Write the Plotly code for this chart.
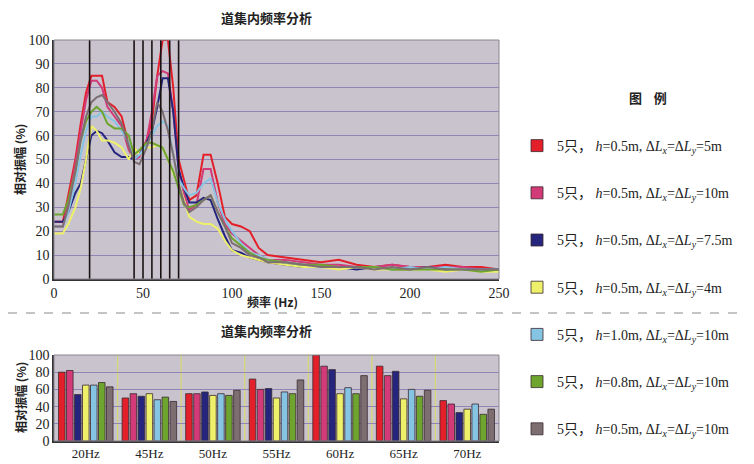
import plotly.graph_objects as go

# ---------------- data ----------------
freq = [0, 5, 8, 12, 15, 18, 21, 24, 27, 30, 34, 38, 42, 45, 48, 52, 55, 58, 61, 64,
        67, 70, 73, 76, 80, 84, 88, 92, 96, 100, 105, 110, 115, 120, 130, 140, 150,
        160, 170, 180, 190, 200, 210, 220, 230, 240, 250]

amp_red = [24, 24, 35, 50, 65, 78, 85, 85, 85, 74, 72, 68, 56, 50, 52, 58, 66, 85, 100, 100,
           80, 50, 42, 33, 35, 52, 52, 40, 26, 23, 22, 20, 13, 10, 9, 8, 7,
           8, 6, 5, 6, 5, 5, 6, 5, 5, 4]
amp_pink = [22, 22, 32, 48, 62, 75, 83, 83, 80, 72, 68, 64, 54, 50, 51, 58, 70, 85, 87, 86,
            70, 46, 36, 29, 31, 46, 46, 32, 23, 19, 16, 13, 10, 8, 8, 7, 6,
            6, 5, 5, 6, 5, 5, 5, 5, 4, 4]
amp_navy = [24, 24, 28, 36, 40, 50, 60, 62, 61, 58, 53, 51, 51, 50, 52, 57, 62, 72, 84, 84,
            70, 46, 38, 32, 32, 34, 33, 25, 18, 12, 11, 9, 8, 7, 6, 5, 5,
            5, 4, 5, 4, 4, 5, 4, 4, 4, 4]
amp_yellow = [19, 19, 23, 30, 38, 50, 64, 62, 58, 58, 57, 55, 50, 55, 52, 55, 55, 56, 55, 50,
              44, 40, 33, 26, 24, 23, 23, 21, 16, 12, 10, 9, 8, 7, 6, 5, 5,
              4, 5, 4, 4, 4, 4, 3, 4, 3, 3]
amp_lblue = [22, 22, 28, 40, 52, 62, 68, 68, 70, 68, 66, 62, 57, 50, 52, 56, 60, 64, 66, 64,
             52, 42, 38, 35, 36, 40, 42, 32, 25, 20, 15, 11, 10, 8, 7, 6, 5,
             5, 5, 5, 4, 5, 4, 5, 4, 4, 4]
amp_green = [27, 27, 33, 45, 58, 66, 70, 72, 70, 65, 63, 63, 60, 52, 54, 57, 57, 56, 55, 50,
             45, 38, 31, 30, 31, 33, 35, 28, 22, 17, 14, 11, 9, 8, 7, 6, 6,
             5, 5, 5, 4, 4, 4, 4, 4, 3, 4]
amp_gray = [22, 22, 30, 45, 58, 68, 74, 76, 77, 74, 70, 65, 56, 49, 48, 55, 62, 74, 70, 62,
            52, 40, 32, 28, 30, 33, 35, 28, 22, 15, 13, 10, 9, 7, 7, 6, 5,
            5, 5, 4, 5, 4, 5, 4, 4, 4, 4]

SP = "\u00a0"
series_names = [
    "5只，" + SP + "<i>h</i>=0.5m, Δ<i>L<sub>x</sub></i>=Δ<i>L<sub>y</sub></i>=5m",
    "5只，" + SP + "<i>h</i>=0.5m, Δ<i>L<sub>x</sub></i>=Δ<i>L<sub>y</sub></i>=10m",
    "5只，" + SP + "<i>h</i>=0.5m, Δ<i>L<sub>x</sub></i>=Δ<i>L<sub>y</sub></i>=7.5m",
    "5只，" + SP + "<i>h</i>=0.5m, Δ<i>L<sub>x</sub></i>=Δ<i>L<sub>y</sub></i>=4m",
    "5只，" + SP + "<i>h</i>=1.0m, Δ<i>L<sub>x</sub></i>=Δ<i>L<sub>y</sub></i>=10m",
    "5只，" + SP + "<i>h</i>=0.8m, Δ<i>L<sub>x</sub></i>=Δ<i>L<sub>y</sub></i>=10m",
    "5只，" + SP + "<i>h</i>=0.5m, Δ<i>L<sub>x</sub></i>=Δ<i>L<sub>y</sub></i>=10m",
]
colors = ["#e3202a", "#d23a78", "#25257e", "#eef06a", "#86c4e4", "#6ea52e", "#7d6e72"]

marker_freqs = [20, 45, 50, 55, 60, 65, 70]

bar_cats = ["20Hz", "45Hz", "50Hz", "55Hz", "60Hz", "65Hz", "70Hz"]
bar_red = [80, 50, 55, 72, 100, 87, 47]
bar_pink = [82, 55, 55, 60, 87, 76, 43]
bar_navy = [54, 52, 57, 61, 83, 81, 33]
bar_yellow = [65, 55, 53, 50, 55, 49, 37]
bar_lblue = [65, 48, 55, 57, 62, 60, 43]
bar_green = [68, 51, 53, 55, 55, 52, 31]
bar_gray = [63, 46, 59, 71, 76, 59, 37]

line_series = [amp_red, amp_pink, amp_navy, amp_yellow, amp_lblue, amp_green, amp_gray]
bar_series = [bar_red, bar_pink, bar_navy, bar_yellow, bar_lblue, bar_green, bar_gray]

# ---------------- figure ----------------
# the page body adds an 8px margin; size the figure so it fills the window exactly
OFF = 8
W, H = 754 - OFF, 464 - OFF
fig = go.Figure()

def px(xp):
    return (xp - OFF) / W

def py(yp):
    return 1 - (yp - OFF) / H

for vals, c, n in zip(line_series, colors, series_names):
    fig.add_trace(go.Scatter(x=freq, y=vals, mode="lines", line=dict(color=c, width=2),
                             name=n, showlegend=False, xaxis="x", yaxis="y"))

for i, (vals, c, n) in enumerate(zip(bar_series, colors, series_names)):
    fig.add_trace(go.Bar(x=bar_cats, y=vals, marker=dict(color=c, line=dict(color="#3a2a30", width=0.8)),
                         name=n, showlegend=True, legendgroup="g%d" % i,
                         xaxis="x2", yaxis="y2"))

shapes = []
for f in marker_freqs:
    shapes.append(dict(type="line", xref="x", yref="y", x0=f, x1=f, y0=0, y1=100,
                       line=dict(color="#1a1212", width=1.6), layer="above"))
for k in range(len(bar_cats) - 1):
    shapes.append(dict(type="line", xref="x2", yref="y2", x0=k + 0.5, x1=k + 0.5, y0=0, y1=100,
                       line=dict(color="#d8d870", width=1.2), layer="below"))
shapes.append(dict(type="line", xref="paper", yref="paper", x0=0, x1=1, y0=py(313), y1=py(313),
                   line=dict(color="#8a8a8a", width=1.2, dash="dash")))
shapes.append(dict(type="rect", xref="x domain", yref="y domain", x0=0, x1=1, y0=0, y1=1,
                   line=dict(color="#8a8490", width=1)))
shapes.append(dict(type="rect", xref="x2 domain", yref="y2 domain", x0=0, x1=1, y0=0, y1=1,
                   line=dict(color="#8a8490", width=1)))

tick_font = dict(family="Liberation Serif, DejaVu Serif, serif", size=14, color="#222")
cjk = "Noto Sans CJK SC, Noto Sans, sans-serif"

fig.update_layout(
    width=W, height=H,
    margin=dict(l=0, r=0, t=0, b=0, autoexpand=False),
    paper_bgcolor="white",
    plot_bgcolor="#c9c3cd",
    barmode="group", bargap=0.12, bargroupgap=0.18,
    showlegend=True,
    legend=dict(x=px(517), y=py(130), xanchor="left", yanchor="top",
                font=dict(family="Liberation Serif, " + cjk, size=14, color="#222"),
                tracegroupgap=26, itemwidth=30, bgcolor="rgba(0,0,0,0)"),
    xaxis=dict(domain=[px(54), px(499)], range=[0, 250], tickvals=[0, 50, 100, 150, 200, 250],
               showgrid=False, zeroline=False, showline=True, linecolor="#333", linewidth=1.5,
               mirror=False, ticks="", tickfont=tick_font, anchor="y", automargin=False),
    yaxis=dict(domain=[py(279), py(40)], range=[0, 100], dtick=10,
               showgrid=True, gridcolor="#8f86b6", gridwidth=1, zeroline=False,
               showline=True, linecolor="#333", linewidth=1.5, ticks="", tickfont=tick_font,
               anchor="x", automargin=False),
    xaxis2=dict(domain=[px(54), px(499)], range=[-0.5, 6.5], showgrid=False, zeroline=False,
                showline=True, linecolor="#333", linewidth=1.5, ticks="",
                tickfont=dict(family="Liberation Serif, DejaVu Serif, serif", size=13, color="#222"),
                anchor="y2", automargin=False),
    yaxis2=dict(domain=[py(441), py(355)], range=[0, 100], dtick=20,
                showgrid=True, gridcolor="#8f86b6", gridwidth=1, zeroline=False,
                showline=True, linecolor="#333", linewidth=1.5, ticks="", tickfont=tick_font,
                anchor="x2", automargin=False),
    shapes=shapes,
)

ann = [
    dict(text="<b>道集内频率分析</b>", x=px(266), y=py(17), size=13),
    dict(text="<b>道集内频率分析</b>", x=px(266), y=py(330), size=13),
    dict(text="<b>频率 (Hz)</b>", x=px(272), y=py(301), size=12),
    dict(text="<b>图" + SP * 4 + "例</b>", x=px(648), y=py(97), size=13),
    dict(text="<b>相对振幅 (%)</b>", x=px(20), y=py(160), size=12, textangle=-90),
    dict(text="<b>相对振幅 (%)</b>", x=px(20), y=py(398), size=12, textangle=-90),
]
for a in ann:
    size = a.pop("size")
    fig.add_annotation(xref="paper", yref="paper", showarrow=False, xanchor="center", yanchor="middle",
                       font=dict(family=cjk, size=size, color="#222"), **a)

fig.write_html("out.html")
